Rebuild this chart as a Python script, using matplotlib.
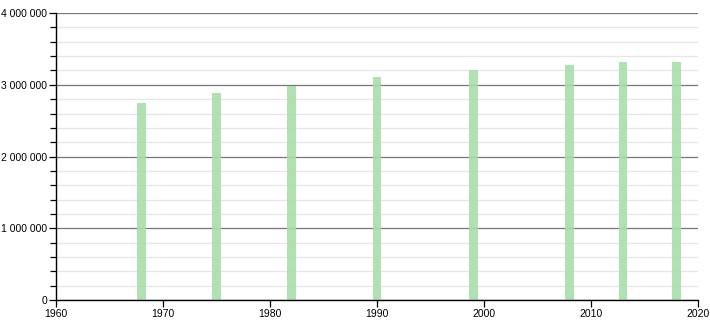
import matplotlib
matplotlib.use("Agg")
import matplotlib.pyplot as plt
from matplotlib.ticker import MultipleLocator, FuncFormatter

plt.rcParams['font.family'] = ['Liberation Sans', 'DejaVu Sans']

years = [1968, 1975, 1982, 1990, 1999, 2008, 2013, 2018]
population = [2745000, 2885000, 2990000, 3108000, 3205000, 3275000, 3313000, 3313000]

fig = plt.figure(figsize=(7.1, 3.2), dpi=100)
ax = fig.add_axes((0.079, 0.0625, 0.904, 0.8965))

ax.bar(years, population, width=0.8, color='#a8deab', alpha=0.9, zorder=2)

ax.set_xlim(1960, 2020)
ax.set_ylim(0, 4000000)
ax.xaxis.set_major_locator(MultipleLocator(10))
ax.yaxis.set_major_locator(MultipleLocator(1000000))
ax.yaxis.set_minor_locator(MultipleLocator(200000))
ax.yaxis.set_major_formatter(FuncFormatter(lambda v, p: f"{int(v):,}".replace(",", " ")))

ax.grid(axis='y', which='major', color='#777777', linewidth=0.9, zorder=1)
ax.grid(axis='y', which='minor', color='#e6e6e6', linewidth=0.9, zorder=0)

for s in ['top', 'right']:
    ax.spines[s].set_visible(False)
ax.spines['left'].set_linewidth(1.0)
ax.spines['bottom'].set_linewidth(1.0)

ax.tick_params(axis='both', which='major', labelsize=7.5, length=5, width=0.9, pad=1.5)
ax.tick_params(axis='y', which='minor', length=4, width=0.9)

fig.savefig('out.png', dpi=100)
